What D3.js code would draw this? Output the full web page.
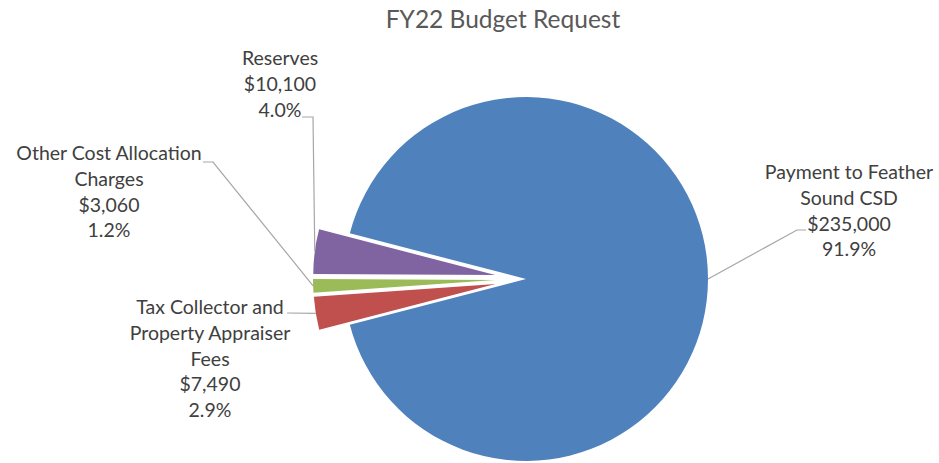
<!DOCTYPE html>
<html>
<head>
<meta charset="utf-8">
<script src="https://cdn.jsdelivr.net/npm/d3@7"></script>
<style>
    body { margin: 0; background: #fff; }
    text { font-family: Lato, "Open Sans", sans-serif; fill: #404040; }
</style>
</head>
<body>
<div id="pieChartGrf"></div>
<script>
// chart data
const categories = ["Payment to Feather Sound CSD", "Tax Collector and Property Appraiser Fees",
    "Other Cost Allocation Charges", "Reserves"];
const amounts = [235000, 7490, 3060, 10100];
const labelLines = [
    ["Payment to Feather", "Sound CSD"],
    ["Tax Collector and", "Property Appraiser", "Fees"],
    ["Other Cost Allocation", "Charges"],
    ["Reserves"]
];
const chartTitle = "FY22 Budget Request";

// styles / layout
const sliceColors = ["#4F81BD", "#C0504D", "#9BBB59", "#8064A2"];
const explodeBy = [0, 31, 31, 31];
const labelPos = [
    { x: 849, y: 179, line: [[806, 230], [797, 230]] },
    { x: 210, y: 314, line: [[287, 313]] },
    { x: 109, y: 160, line: [[203, 162], [213, 162]] },
    { x: 280, y: 65, line: [[302, 117], [313, 117]] }
];
const lineHeight = 25.8;

function drawPieChart() {
    const windowWidth = 939;
    const windowHeight = 463;
    const cx = 526, cy = 279, radius = 182;

    const total = d3.sum(amounts);
    // keep the small slices centred on 9 o'clock
    const smallShare = 1 - amounts[0] / total;
    const start = -Math.PI / 2 + smallShare * Math.PI;

    const pie = d3.pie().sort(null).value(d => d)
        .startAngle(start).endAngle(start + 2 * Math.PI);
    const arcs = pie(amounts);

    const arc = d3.arc().innerRadius(0).outerRadius(radius);
    const fmtMoney = d3.format("$,");
    const fmtPct = d3.format(".1%");

    const svgBase = d3.select("#pieChartGrf").append("svg")
        .attr("width", windowWidth)
        .attr("height", windowHeight);

    // title
    svgBase.append("text")
        .attr("x", 503)
        .attr("y", 28)
        .attr("text-anchor", "middle")
        .style("font-size", "24.5px")
        .style("fill", "#595959")
        .text(chartTitle);

    const pieGroup = svgBase.append("g")
        .attr("transform", "translate(" + cx + "," + cy + ")");

    function offset(d, i) {
        const mid = (d.startAngle + d.endAngle) / 2;
        return [Math.sin(mid) * explodeBy[i], -Math.cos(mid) * explodeBy[i]];
    }

    pieGroup.selectAll(".slice")
        .data(arcs)
        .enter()
        .append("path")
        .attr("class", "slice")
        .attr("fill", (d, i) => sliceColors[i])
        .attr("transform", (d, i) => "translate(" + offset(d, i) + ")")
        .attr("d", arc);

    // leader lines
    const edgeArc = d3.arc().innerRadius(radius).outerRadius(radius);
    arcs.forEach((d, i) => {
        const c = edgeArc.centroid(d);
        const o = offset(d, i);
        const end = [cx + c[0] + o[0], cy + c[1] + o[1]];
        const pts = labelPos[i].line.concat([end]);
        svgBase.append("path")
            .attr("fill", "none")
            .attr("stroke", "#a6a6a6")
            .attr("stroke-width", 1.2)
            .attr("d", d3.line()(pts));
    });

    // labels
    arcs.forEach((d, i) => {
        const lines = labelLines[i].concat([fmtMoney(amounts[i]), fmtPct(amounts[i] / total)]);
        const t = svgBase.append("text")
            .attr("text-anchor", "middle")
            .style("font-size", "19.5px");
        lines.forEach((ln, k) => {
            t.append("tspan")
                .attr("x", labelPos[i].x)
                .attr("y", labelPos[i].y + k * lineHeight)
                .text(ln);
        });
    });
}

drawPieChart();
</script>
</body>
</html>
